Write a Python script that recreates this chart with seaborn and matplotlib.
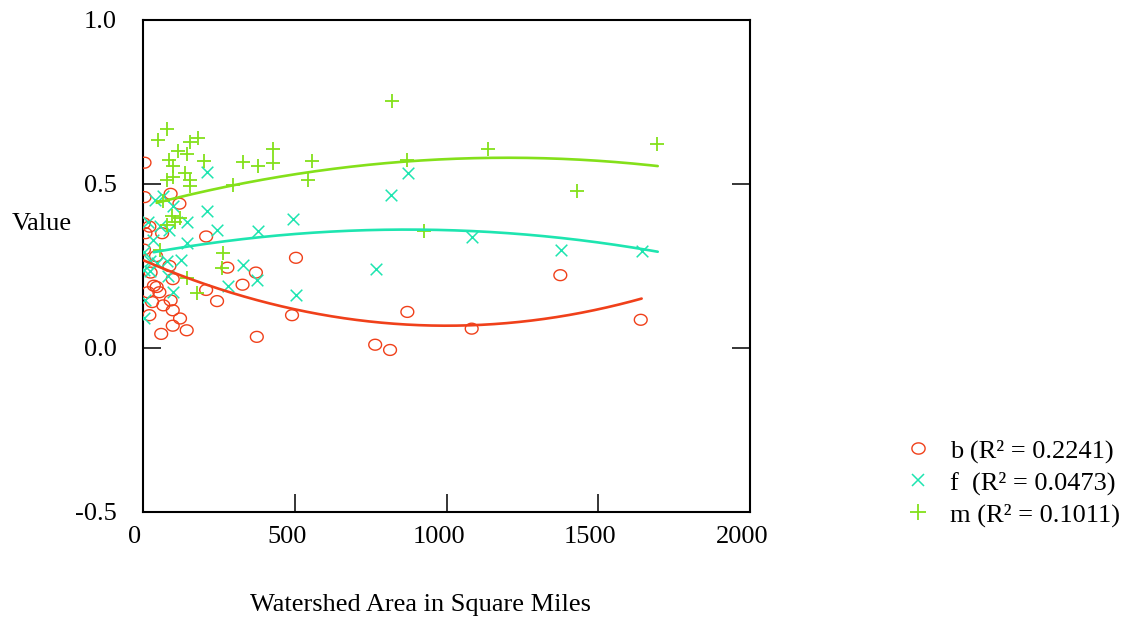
import numpy as np
import matplotlib
matplotlib.use("Agg")
import matplotlib.pyplot as plt
import matplotlib.transforms as mtransforms
from matplotlib.path import Path
from matplotlib.lines import Line2D
import seaborn as sns

# ---------------- data ----------------
b_x = [5, 5, 91, 120, 3, 21, 8, 63, 208, 3, 43, 504, 87, 278, 25, 372, 98, 328, 36, 45,
       16, 54, 208, 244, 91, 30, 67, 98, 21, 122, 491, 98, 144, 60, 375,
       871, 765, 814, 1083, 1375, 1640]
b_y = [0.565, 0.46, 0.47, 0.44, 0.38, 0.37, 0.35, 0.35, 0.34, 0.30, 0.28, 0.275, 0.25, 0.245,
       0.23, 0.23, 0.21, 0.193, 0.19, 0.186, 0.17, 0.17, 0.177, 0.143, 0.145, 0.14, 0.13,
       0.115, 0.10, 0.09, 0.10, 0.068, 0.054, 0.043, 0.034,
       0.11, 0.01, -0.006, 0.059, 0.222, 0.086]

f_x = [38, 67, 100, 212, 212, 144, 18, 56, 87, 245, 378, 493, 32, 144, 3, 23, 45, 78, 124,
       3, 23, 84, 330, 375, 100, 279, 504, 5, 3,
       874, 816, 768, 1083, 1377, 1643]
f_y = [0.45, 0.464, 0.434, 0.538, 0.417, 0.383, 0.385, 0.373, 0.36, 0.36, 0.358, 0.394, 0.33,
       0.32, 0.293, 0.265, 0.26, 0.265, 0.267, 0.239, 0.234, 0.219, 0.254, 0.208, 0.17, 0.19,
       0.162, 0.145, 0.091,
       0.535, 0.466, 0.24, 0.337, 0.30, 0.295]

m_x = [78, 50, 182, 155, 116, 144, 429, 87, 200, 330, 380, 427, 556, 545, 98, 138, 100, 80,
       155, 155, 295, 67, 95, 122, 78, 105, 56, 265, 259, 144, 177,
       819, 869, 1136, 927, 1429, 1695]
m_y = [0.668, 0.635, 0.64, 0.627, 0.60, 0.59, 0.607, 0.572, 0.57, 0.566, 0.556, 0.563, 0.571,
       0.511, 0.554, 0.535, 0.521, 0.513, 0.513, 0.493, 0.498, 0.447, 0.403, 0.396, 0.376,
       0.385, 0.30, 0.29, 0.244, 0.213, 0.168,
       0.754, 0.574, 0.607, 0.358, 0.48, 0.622]

# quadratic trend coefficients (a*x^2 + b*x + c) and their x ranges
b_coef = [2.0e-7, -4.0e-4, 0.268]
f_coef = [-9.9e-8, 1.7226e-4, 0.2861]
m_coef = [-1.03e-7, 2.472e-4, 0.4317]
b_range = [3, 1643]
f_range = [35, 1696]
m_range = [45, 1696]

series_names = ["b", "f", "m"]
legend_labels = ["b (R\u00b2 = 0.2241)", "f  (R\u00b2 = 0.0473)", "m (R\u00b2 = 0.1011)"]
x_ticks = [0, 500, 1000, 1500, 2000]
y_ticks = [-0.5, 0.0, 0.5, 1.0]
x_label = "Watershed Area in Square Miles"
y_label = "Value"

# ---------------- style ----------------
RED = "#f0401a"
CYAN = "#1ee5b0"
GREEN = "#84e01a"

sns.set_style("ticks")
plt.rcParams["font.family"] = ["Liberation Serif", "DejaVu Serif"]
plt.rcParams["text.color"] = "black"
plt.rcParams["xtick.color"] = "black"
plt.rcParams["ytick.color"] = "black"
FS = 19

fig = plt.figure(figsize=(11.25, 6.19), dpi=100)
ax = fig.add_axes([143 / 1125, 1 - 512 / 619, (750 - 143) / 1125, (512 - 20) / 619])

theta = np.linspace(0, 2 * np.pi, 64)
ellipse = Path(np.column_stack([np.cos(theta), 0.85 * np.sin(theta)]), closed=True)

# scatter points
sns.scatterplot(x=b_x, y=b_y, marker=ellipse, s=85, ax=ax, color=RED, linewidth=1.0, zorder=3)
coll = ax.collections[-1]
coll.set_facecolor("none")
coll.set_edgecolor(RED)
coll.set_linewidth(1.0)

sns.scatterplot(x=f_x, y=f_y, marker="x", s=70, ax=ax, color=CYAN, linewidth=1.1, zorder=3)
sns.scatterplot(x=m_x, y=m_y, marker="+", s=115, ax=ax, color=GREEN, linewidth=1.3, zorder=3)

# trend curves
for coef, rng, col in [(b_coef, b_range, RED), (f_coef, f_range, CYAN), (m_coef, m_range, GREEN)]:
    xs = np.linspace(rng[0], rng[1], 200)
    ys = np.polyval(coef, xs)
    sns.lineplot(x=xs, y=ys, ax=ax, color=col, linewidth=1.9, zorder=4)

ax.set_xlim(0, 2000)
ax.set_ylim(-0.5, 1.0)
ax.set_xticks(x_ticks)
ax.set_yticks(y_ticks)
ax.set_xticklabels([str(t) for t in x_ticks])
ax.set_yticklabels([f"{t:.1f}" for t in y_ticks])
ax.set_xlabel("")
ax.set_ylabel("")

for sp in ax.spines.values():
    sp.set_visible(True)
    sp.set_linewidth(1.5)
    sp.set_color("black")

ax.tick_params(axis="x", direction="in", length=13, width=1.1, labelsize=FS, pad=10,
               top=False, bottom=True, colors="black")
ax.tick_params(axis="y", direction="in", length=13, width=1.1, labelsize=FS, pad=19,
               left=True, right=True, colors="black")

# small leftward shift of x tick labels as in the reference
shift = mtransforms.ScaledTranslation(-8 / 100, 0, fig.dpi_scale_trans)
for lab in ax.get_xticklabels():
    lab.set_transform(lab.get_transform() + shift)

fig.text(420 / 1125, 1 - 605 / 619, x_label, fontsize=FS, ha="center", va="center", color="black")
fig.text(12 / 1125, 1 - 224 / 619, y_label, fontsize=FS, ha="left", va="center", color="black")

handles = [
    Line2D([], [], linestyle="none", marker=ellipse, markersize=9.5, markerfacecolor="none",
           markeredgecolor=RED, markeredgewidth=1.0),
    Line2D([], [], linestyle="none", marker="x", markersize=8.5, color=CYAN, markeredgewidth=1.1),
    Line2D([], [], linestyle="none", marker="+", markersize=11, color=GREEN, markeredgewidth=1.3),
]
leg = fig.legend(handles, legend_labels, loc="center left",
                 bbox_to_anchor=(905 / 1125, 1 - 483 / 619),
                 frameon=False, fontsize=FS, handlelength=1.0, handletextpad=0.7,
                 borderpad=0, borderaxespad=0, labelspacing=0.3)
for t in leg.get_texts():
    t.set_color("black")

fig.savefig("out.png", dpi=100)
